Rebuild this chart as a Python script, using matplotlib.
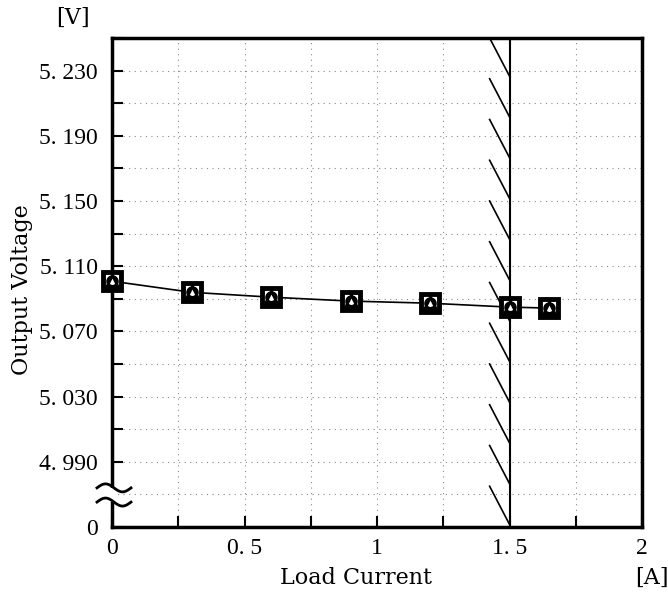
import numpy as np
import matplotlib.pyplot as plt
from matplotlib.lines import Line2D
from matplotlib.patches import Rectangle

# measured points (three overlapping series in the original)
load_current = [0, 0.3, 0.6, 0.9, 1.2, 1.5, 1.65]
vout_square = [5.1008, 5.0940, 5.0910, 5.0886, 5.0873, 5.0849, 5.0843]
vout_circle = [5.1008, 5.0940, 5.0910, 5.0886, 5.0873, 5.0849, 5.0843]
vout_triangle = [5.1008, 5.0940, 5.0910, 5.0886, 5.0873, 5.0849, 5.0843]

x_ticks = [0, 0.5, 1, 1.5, 2]
x_tick_labels = ['0', '0. 5', '1', '1. 5', '2']
y_ticks = [4.95, 4.99, 5.03, 5.07, 5.11, 5.15, 5.19, 5.23]
y_tick_labels = ['0', '4. 990', '5. 030', '5. 070', '5. 110', '5. 150', '5. 190', '5. 230']
limit_current = 1.5

plt.rcParams['font.family'] = ['Liberation Serif', 'DejaVu Serif']
label_font = dict(family=['DejaVu Serif'], fontsize=16)

fig = plt.figure(figsize=(6.68, 5.93), dpi=100)
ax = fig.add_axes([112/668, 66/593, 530/668, 489/593])

ax.set_xlim(0, 2)
ax.set_ylim(4.95, 5.25)

# grid
for gx in np.arange(0.25, 2.0, 0.25):
    ax.axvline(gx, color='#8a8a8a', lw=0.8, ls=(0, (1, 4)), zorder=0)
for gy in np.arange(4.97, 5.2401, 0.02):
    ax.axhline(gy, color='#8a8a8a', lw=0.8, ls=(0, (1, 4)), zorder=0)

# ticks
ax.set_xticks(x_ticks)
ax.set_xticklabels(x_tick_labels, fontsize=17)
ax.set_xticks(np.arange(0.25, 2.0, 0.5), minor=True)
ax.set_yticks(y_ticks)
ax.set_yticklabels(y_tick_labels, fontsize=17)
ax.set_yticks(np.arange(5.01, 5.25, 0.04), minor=True)
ax.tick_params(which='both', direction='in', length=8, width=1.5)
ax.tick_params(axis='y', which='both', pad=10)
ax.tick_params(axis='x', which='both', pad=8)

for s in ax.spines.values():
    s.set_linewidth(2.5)

# data
ax.plot(load_current, vout_square, color='black', lw=1.2, zorder=3)
ax.plot(load_current, vout_square, ls='none', marker='s', ms=13, mfc='white',
        mec='black', mew=3.5, zorder=4, clip_on=False)
ax.plot(load_current, vout_triangle, ls='none', marker='^', ms=9, mfc='none',
        mec='black', mew=2, zorder=5, clip_on=False)
ax.plot(load_current, vout_circle, ls='none', marker='o', ms=7, mfc='none',
        mec='black', mew=2, zorder=5, clip_on=False)

# current limit line with hatching
ax.axvline(limit_current, color='black', lw=1.5, zorder=2)
trans = ax.get_xaxis_transform()
n_hatch = 12
for i in range(n_hatch):
    top = 1 - i / n_hatch
    ax.add_line(Line2D([limit_current - 0.075, limit_current],
                       [top, top - 0.078], transform=trans,
                       color='black', lw=1.2, zorder=2))

# axis break marks on the left spine
t = np.linspace(0, 1, 50)
wx = -15/530 + t * 34/530
wave = 4/489 * np.sin(2 * np.pi * t)
ax.add_patch(Rectangle((-3/530, 0.051), 6/530, 0.029, transform=ax.transAxes,
                       facecolor='white', edgecolor='none', clip_on=False, zorder=6))
for yb in [0.080, 0.051]:
    ax.add_line(Line2D(wx, yb + wave, transform=ax.transAxes, color='black',
                       lw=2, clip_on=False, zorder=7))

ax.set_ylabel('Output Voltage', **label_font)
ax.yaxis.set_label_coords(-0.149, 0.485)
ax.set_xlabel('Load Current', va='center', **label_font)
ax.xaxis.set_label_coords(0.46, -0.104)
fig.text(73/668, 1 - 18/593, '[V]', ha='center', va='center', **label_font)
fig.text(652/668, 1 - 578/593, '[A]', ha='center', va='center', **label_font)

fig.savefig('out.png', dpi=100)
